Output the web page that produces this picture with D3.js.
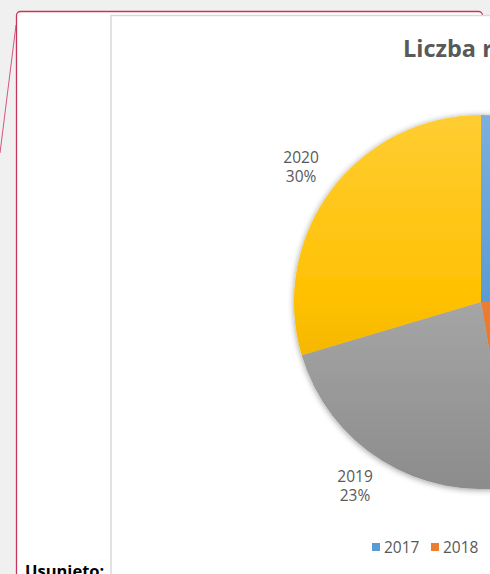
<!DOCTYPE html>
<html>
<head>
<meta charset="utf-8">
<script src="https://cdn.jsdelivr.net/npm/d3@7"></script>
<style>
  body { margin: 0; background: #f0f0f0; }
  svg { display: block; }
</style>
</head>
<body>
<div id="visual"></div>
<script>
// chart data (share of each year)
const years = ["2017", "2018", "2019", "2020"];
const values = [25.2, 22.1, 23.1, 29.6];
const colors = ["#5b9bd5", "#ed7d31", "#a5a5a5", "#ffc000"];
const chartTitle = "Liczba rejestracji";

function drawPie() {
    const W = 490, H = 574;
    const svg = d3.select("#visual").html("")
        .append("svg")
        .attr("width", W)
        .attr("height", H);

    const defs = svg.append("defs");

    // soft shadow round the pie
    const f = defs.append("filter").attr("id", "shadow")
        .attr("x", "-20%").attr("y", "-20%").attr("width", "140%").attr("height", "140%");
    f.append("feGaussianBlur").attr("in", "SourceAlpha").attr("stdDeviation", 3);
    f.append("feOffset").attr("dx", 0).attr("dy", 1).attr("result", "b");
    f.append("feComponentTransfer").append("feFuncA").attr("type", "linear").attr("slope", 0.4);
    const m = f.append("feMerge");
    m.append("feMergeNode");
    m.append("feMergeNode").attr("in", "SourceGraphic");

    // page background + comment balloon
    svg.append("rect").attr("width", W).attr("height", H).attr("fill", "#f0f0f0");
    svg.append("line")
        .attr("x1", 16).attr("y1", 25).attr("x2", 0).attr("y2", 153)
        .attr("stroke", "#d4587a").attr("stroke-width", 1);
    svg.append("rect")
        .attr("x", 16.5).attr("y", 11.5).attr("width", 466).attr("height", 620).attr("rx", 4)
        .attr("fill", "#fff").attr("stroke", "#c9325a").attr("stroke-width", 1.3);

    // chart frame
    const cx = 481, cy = 302, r = 187;
    svg.append("rect")
        .attr("x", 111).attr("y", 15.5).attr("width", 2 * (cx - 111)).attr("height", 620)
        .attr("fill", "#fff").attr("stroke", "#d9d9d9").attr("stroke-width", 1.5);

    svg.append("text")
        .attr("x", 403).attr("y", 57)
        .attr("font-family", "Open Sans, sans-serif")
        .attr("font-weight", "bold")
        .attr("font-size", 23.5)
        .attr("fill", "#595959")
        .text(chartTitle);

    // gradients per slice colour (tinted top, shaded bottom), in the pie group's coords
    colors.forEach((c, i) => {
        const g = defs.append("linearGradient").attr("id", "grad" + i)
            .attr("gradientUnits", "userSpaceOnUse")
            .attr("x1", 0).attr("y1", -r).attr("x2", 0).attr("y2", r);
        g.append("stop").attr("offset", "0%").attr("stop-color", d3.interpolateRgb(c, "#ffffff")(0.2));
        g.append("stop").attr("offset", "50%").attr("stop-color", c);
        g.append("stop").attr("offset", "100%").attr("stop-color", d3.interpolateRgb(c, "#000000")(0.15));
    });

    const data = years.map((y, i) => ({ year: y, value: values[i], idx: i }));
    const total = d3.sum(values);
    const pie = d3.pie().sort(null).value(d => d.value);
    const arc = d3.arc().innerRadius(0).outerRadius(r);
    const labelArc = d3.arc().innerRadius(r + 10).outerRadius(r + 10);

    const g = svg.append("g").attr("transform", "translate(" + cx + "," + cy + ")");

    g.append("g").attr("filter", "url(#shadow)")
        .selectAll("path")
        .data(pie(data))
        .enter()
        .append("path")
        .attr("d", arc)
        .attr("fill", d => "url(#grad" + d.data.idx + ")");

    // data labels (year + percent), box placed outside the slice end
    const labelPos = d => {
        const [x, y] = labelArc.centroid(d);
        return [x + Math.sign(x) * 22, y + Math.sign(y) * 17];
    };
    const lab = g.selectAll(".lab")
        .data(pie(data))
        .enter()
        .append("text")
        .attr("class", "lab")
        .attr("transform", d => "translate(" + labelPos(d) + ")")
        .attr("text-anchor", "middle")
        .attr("font-family", "Open Sans, sans-serif")
        .attr("font-size", 15.5)
        .attr("fill", "#595959");
    lab.append("tspan").attr("x", 0).attr("dy", "-0.25em").text(d => d.data.year);
    lab.append("tspan").attr("x", 0).attr("dy", "1.22em")
        .text(d => Math.round(d.data.value / total * 100) + "%");

    // legend, centred under the pie
    const step = 59;
    const legend = svg.append("g")
        .attr("transform", "translate(" + (cx - 2 * step + 9) + ",543)");
    const item = legend.selectAll("g")
        .data(years)
        .enter()
        .append("g")
        .attr("transform", (d, i) => "translate(" + i * step + ",0)");
    item.append("rect").attr("width", 8).attr("height", 8).attr("fill", (d, i) => colors[i]);
    item.append("text")
        .attr("x", 12).attr("y", 10)
        .attr("font-family", "Open Sans, sans-serif")
        .attr("font-size", 15.5)
        .attr("fill", "#595959")
        .text(d => d);

    svg.append("text")
        .attr("x", 25).attr("y", 576.5)
        .attr("font-family", "Open Sans, sans-serif")
        .attr("font-weight", "bold")
        .attr("font-size", 16.5)
        .attr("fill", "#000")
        .text("Usunięto:");
}

drawPie();
</script>
</body>
</html>
